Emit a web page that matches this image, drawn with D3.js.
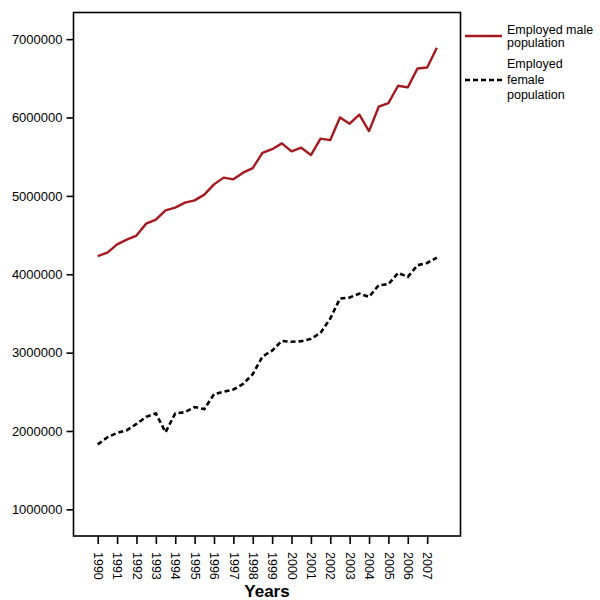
<!DOCTYPE html>
<html>
<head>
<meta charset="utf-8">
<script src="https://cdn.jsdelivr.net/npm/d3@7"></script>
<style>
  html, body { margin: 0; padding: 0; background: #fff; }
  svg { display: block; font-family: "Liberation Sans", Arial, sans-serif; }
</style>
</head>
<body>
<svg id="chart" width="600" height="600"></svg>
<script>
// Half-yearly observations, 1990 to 2007.5
const periods = [
  1990, 1990.5, 1991, 1991.5, 1992, 1992.5, 1993, 1993.5, 1994, 1994.5,
  1995, 1995.5, 1996, 1996.5, 1997, 1997.5, 1998, 1998.5, 1999, 1999.5,
  2000, 2000.5, 2001, 2001.5, 2002, 2002.5, 2003, 2003.5, 2004, 2004.5,
  2005, 2005.5, 2006, 2006.5, 2007, 2007.5
];

const maleEmployed = [
  4230000, 4277000, 4382000, 4442000, 4493000, 4646000, 4697000, 4816000, 4850000, 4914000,
  4943000, 5016000, 5147000, 5233000, 5211000, 5296000, 5355000, 5549000, 5596000, 5670000,
  5568000, 5615000, 5521000, 5730000, 5712000, 6001000, 5921000, 6036000, 5827000, 6138000,
  6184000, 6405000, 6384000, 6626000, 6639000, 6890000
];

const femaleEmployed = [
  1829000, 1920000, 1975000, 2010000, 2090000, 2180000, 2224000, 1985000, 2224000, 2240000,
  2305000, 2279000, 2470000, 2500000, 2530000, 2600000, 2725000, 2950000, 3025000, 3150000,
  3138000, 3146000, 3175000, 3252000, 3435000, 3690000, 3703000, 3754000, 3711000, 3860000,
  3873000, 4017000, 3966000, 4115000, 4144000, 4213000
];

const yearTicks = d3.range(1990, 2008);
const valueTicks = [1000000, 2000000, 3000000, 4000000, 5000000, 6000000, 7000000];

const svg = d3.select("#chart");
const plotLeft = 73.5, plotRight = 460.5, plotTop = 12.5, plotBottom = 536;

const x = d3.scaleLinear().domain([1988.75, 2008.72]).range([plotLeft, plotRight]);
const y = d3.scaleLinear().domain([660000, 7340000]).range([plotBottom, plotTop]);

// plot frame
svg.append("rect")
  .attr("x", plotLeft).attr("y", plotTop)
  .attr("width", plotRight - plotLeft).attr("height", plotBottom - plotTop)
  .attr("fill", "none").attr("stroke", "#000").attr("stroke-width", 1.6);

// y axis
const yAxis = svg.append("g")
  .attr("transform", `translate(${plotLeft},0)`)
  .call(d3.axisLeft(y).tickValues(valueTicks).tickFormat(d3.format("d")).tickSize(7).tickSizeOuter(0).tickPadding(4));
yAxis.select(".domain").remove();
yAxis.selectAll(".tick line").attr("stroke", "#000").attr("stroke-width", 1.6);
yAxis.selectAll(".tick text").attr("font-size", 13).attr("fill", "#000")
  .attr("font-family", "'Liberation Sans', Arial, sans-serif");

// x axis with vertical year labels
const xAxis = svg.append("g")
  .attr("transform", `translate(0,${plotBottom})`)
  .call(d3.axisBottom(x).tickValues(yearTicks).tickFormat(d3.format("d")).tickSize(8).tickSizeOuter(0));
xAxis.select(".domain").remove();
xAxis.selectAll(".tick line").attr("stroke", "#000").attr("stroke-width", 1.6);
xAxis.selectAll(".tick text")
  .attr("font-size", 12.5).attr("fill", "#000")
  .attr("font-family", "'Liberation Sans', Arial, sans-serif")
  .attr("transform", "rotate(90)")
  .attr("text-anchor", "start")
  .attr("dy", "0.35em")
  .attr("x", 16).attr("y", 0);

// x axis title
svg.append("text")
  .attr("x", (plotLeft + plotRight) / 2).attr("y", 597)
  .attr("text-anchor", "middle")
  .attr("font-size", 17).attr("font-weight", "bold")
  .text("Years");

const line = d3.line().x((d, i) => x(periods[i])).y(d => y(d));

svg.append("path")
  .datum(maleEmployed)
  .attr("d", line)
  .attr("fill", "none")
  .attr("stroke", "#a3191f")
  .attr("stroke-width", 2.4)
  .attr("stroke-linejoin", "round");

svg.append("path")
  .datum(femaleEmployed)
  .attr("d", line)
  .attr("fill", "none")
  .attr("stroke", "#000")
  .attr("stroke-width", 2.6)
  .attr("stroke-dasharray", "5,3");

// legend
const legend = svg.append("g").attr("font-size", 12.5).attr("fill", "#000");
legend.append("line")
  .attr("x1", 465).attr("x2", 502).attr("y1", 36).attr("y2", 36)
  .attr("stroke", "#a3191f").attr("stroke-width", 2.4);
legend.append("text").attr("x", 507).attr("y", 34).text("Employed male");
legend.append("text").attr("x", 507).attr("y", 47).text("population");

legend.append("line")
  .attr("x1", 465).attr("x2", 502).attr("y1", 80).attr("y2", 80)
  .attr("stroke", "#000").attr("stroke-width", 2.6).attr("stroke-dasharray", "5,3");
legend.append("text").attr("x", 507).attr("y", 68).text("Employed");
legend.append("text").attr("x", 507).attr("y", 84).text("female");
legend.append("text").attr("x", 507).attr("y", 99).text("population");
</script>
</body>
</html>
